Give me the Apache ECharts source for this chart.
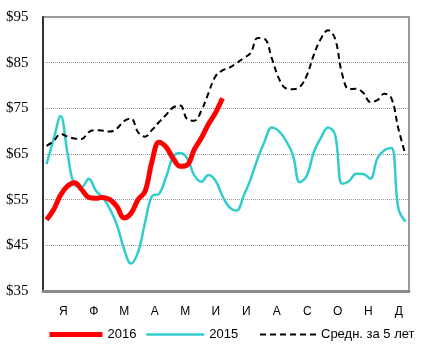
<!DOCTYPE html>
<html>
<head>
<meta charset="utf-8">
<script src="https://cdn.jsdelivr.net/npm/echarts@6/dist/echarts.min.js"></script>
<style>html,body{margin:0;padding:0;background:#fff;}#c{width:424px;height:346px;}</style>
</head>
<body>
<div id="c"></div>
<script>
var months = ['Я','Ф','М','А','М','И','И','А','С','О','Н','Д'];
var yTicks = [35, 45, 55, 65, 75, 85, 95];
var weeks = [];
for (var w = 1; w <= 52; w++) weeks.push(String(w));

var s2016 = [50.6,52.8,56,58,58.7,57.2,55.5,55.3,55.5,55,53.5,51,52,55,56.8,63.5,67.6,66.5,64,62.3,62.6,66,68.5,71.5,74,77.2];
var s2015 = [62.8,68.2,73.3,65,58.2,57.8,59.6,57,55.4,53,49.5,44.3,41,43.5,50,55.8,56.3,60,64.4,65.2,64,60.3,58.9,60.4,59.2,55.8,53.3,52.6,55.8,59.5,64,67.8,70.8,70,68,64.8,58.8,60.3,65.5,68.6,70.8,69.2,58.5,59.1,60.7,60.6,59.6,64,65.8,66.3,53,50.2];
var sAvg = [66.8,67.8,69.4,68.8,68.4,68.3,69.8,70.2,70.1,69.9,70.6,72.2,72.8,69.8,68.8,70.3,72,73.6,75.2,75.6,72.6,72.3,74.5,78.3,82,83.3,83.9,84.9,86,87.1,90.4,90.2,86,81.6,79.4,79.2,79.7,82.3,86.8,90.3,92.1,90.2,82.5,79.2,79.3,78.4,76.4,76.8,78.2,77.2,70.5,64.8];
var names = ['2016', '2015', 'Средн. за 5 лет'];

function leg(name, left, w, lw) {
  return {
    left: left, top: 328, itemWidth: w, itemHeight: 8, itemGap: 5, padding: 0,
    itemStyle: {opacity: 0, borderWidth: 0},
    lineStyle: {width: lw},
    textStyle: {fontFamily: 'Liberation Sans', fontSize: 13, color: '#000', padding: [3, 0, 0, 0]},
    data: [name]
  };
}

var chart = echarts.init(document.getElementById('c'), null, {renderer: 'canvas'});
chart.setOption({
  animation: false,
  backgroundColor: '#fff',
  grid: {left: 43, top: 17, right: 15, bottom: 55, show: true, borderColor: '#9a9a9a', borderWidth: 2, backgroundColor: 'transparent'},
  legend: [leg(names[0], 47, 53, 5), leg(names[1], 145, 58, 2.5), leg(names[2], 259, 56, 2)],
  xAxis: [
    {type: 'category', data: weeks, boundaryGap: true,
     axisLine: {show: true, lineStyle: {color: '#8c8c8c', width: 3}},
     axisTick: {show: false}, axisLabel: {show: false}, splitLine: {show: false}},
    {type: 'category', data: months, boundaryGap: true, position: 'bottom',
     axisLine: {show: false}, axisTick: {show: false},
     axisLabel: {show: true, fontFamily: 'Liberation Sans', fontSize: 12, color: '#000', margin: 15, padding: [0, 0, 0, 10]},
     splitLine: {show: false}}
  ],
  yAxis: {
    type: 'value', min: yTicks[0], max: yTicks[yTicks.length - 1], interval: 10,
    axisLine: {show: true, lineStyle: {color: '#333', width: 2}},
    axisTick: {show: false},
    axisLabel: {fontFamily: 'Liberation Serif', fontSize: 15, color: '#000', align: 'left', margin: 37,
      formatter: function (v) { return '$' + v; }},
    splitLine: {show: true, lineStyle: {color: '#999', type: 'dotted', width: 1}}
  },
  series: [
    {name: names[0], type: 'line', data: s2016, smooth: 0.4, symbol: 'none', z: 5,
     lineStyle: {color: '#ff0000', width: 5}, itemStyle: {color: '#ff0000'}},
    {name: names[1], type: 'line', data: s2015, smooth: 0.4, symbol: 'none', z: 3,
     lineStyle: {color: '#33cccc', width: 2.5}, itemStyle: {color: '#33cccc'}},
    {name: names[2], type: 'line', data: sAvg, smooth: 0.4, symbol: 'none', z: 4,
     lineStyle: {color: '#000', width: 2, type: [6, 4]}, itemStyle: {color: '#000'}}
  ]
});
</script>
</body>
</html>
